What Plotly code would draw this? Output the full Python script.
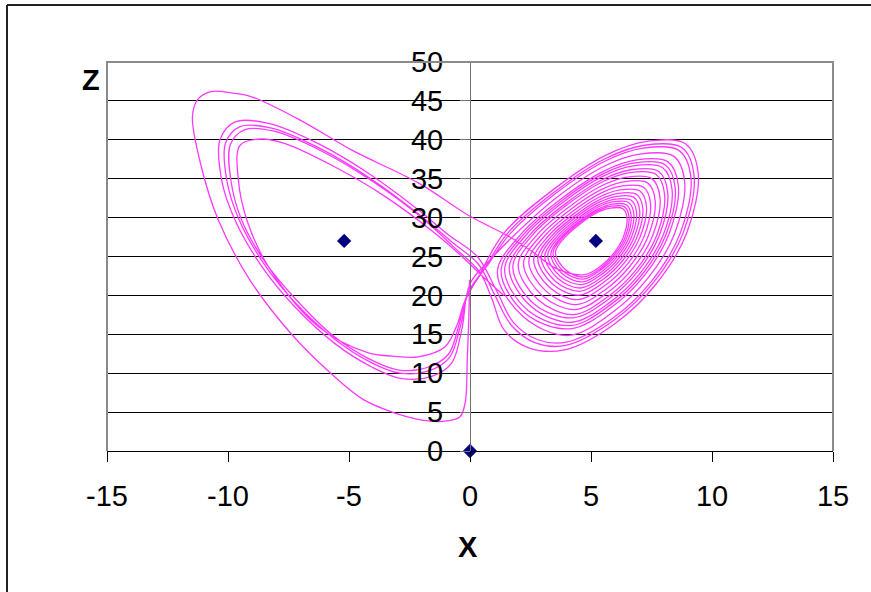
import plotly.graph_objects as go

# ---- data (x, z) ----
start_x = [-0.02, -0.05, -0.11, -0.2, -0.41, -0.9, -1.5, -2.2, -3.03, -4.4, -5.9, -7.4, -9.1, -10.4, -11.1, -11.47, -11.25, -10.7, -9.8, -9.0, -7.0, -4.9, -2.1, -0.07, 1.65, 2.5, 3.6]
start_z = [22.0, 17.0, 12.1, 6.2, 4.4, 3.9, 3.8, 4.1, 4.8, 6.6, 10.4, 15.1, 22.0, 29.7, 36.5, 43.0, 45.2, 46.2, 46.0, 45.5, 42.5, 38.7, 34.4, 30.3, 27.5, 25.8, 23.4]

r032_x = [4.72, 5.39, 5.93, 6.33, 6.49, 6.32, 5.80, 5.26, 4.56, 3.92, 3.53, 3.95]
r032_z = [22.66, 23.74, 25.38, 27.46, 29.92, 31.14, 31.23, 30.66, 29.22, 27.46, 25.54, 23.30]
r034_x = [4.69, 5.41, 5.98, 6.41, 6.57, 6.39, 5.85, 5.27, 4.52, 3.84, 3.43, 3.88]
r034_z = [22.37, 23.53, 25.26, 27.47, 30.09, 31.38, 31.48, 30.87, 29.34, 27.47, 25.43, 23.05]
r036_x = [4.67, 5.42, 6.04, 6.49, 6.66, 6.47, 5.89, 5.28, 4.49, 3.77, 3.34, 3.80]
r036_z = [22.09, 23.31, 25.15, 27.49, 30.26, 31.63, 31.74, 31.09, 29.47, 27.49, 25.33, 22.81]
r0385_x = [4.64, 5.45, 6.10, 6.58, 6.77, 6.56, 5.95, 5.29, 4.45, 3.68, 3.21, 3.71]
r0385_z = [21.73, 23.04, 25.01, 27.51, 30.47, 31.94, 32.05, 31.36, 29.63, 27.51, 25.20, 22.50]
r041_x = [4.61, 5.47, 6.17, 6.68, 6.88, 6.66, 6.00, 5.31, 4.40, 3.58, 3.09, 3.62]
r041_z = [21.38, 22.77, 24.86, 27.53, 30.69, 32.24, 32.37, 31.63, 29.78, 27.53, 25.07, 22.20]
r044_x = [4.57, 5.50, 6.24, 6.79, 7.01, 6.77, 6.07, 5.32, 4.35, 3.47, 2.94, 3.52]
r044_z = [20.95, 22.45, 24.69, 27.55, 30.94, 32.61, 32.74, 31.95, 29.97, 27.55, 24.91, 21.83]
r047_x = [4.54, 5.52, 6.32, 6.91, 7.14, 6.89, 6.13, 5.34, 4.30, 3.36, 2.80, 3.41]
r047_z = [20.53, 22.12, 24.52, 27.58, 31.20, 32.98, 33.12, 32.28, 30.16, 27.58, 24.76, 21.47]
r0505_x = [4.49, 5.55, 6.41, 7.04, 7.29, 7.02, 6.21, 5.35, 4.24, 3.23, 2.63, 3.28]
r0505_z = [20.03, 21.75, 24.32, 27.60, 31.49, 33.41, 33.56, 32.65, 30.38, 27.60, 24.57, 21.04]
r0545_x = [4.45, 5.59, 6.52, 7.20, 7.46, 7.17, 6.30, 5.37, 4.17, 3.08, 2.43, 3.14]
r0545_z = [19.46, 21.31, 24.09, 27.64, 31.83, 33.90, 34.07, 33.09, 30.63, 27.64, 24.37, 20.55]
r059_x = [4.39, 5.63, 6.63, 7.37, 7.65, 7.34, 6.40, 5.40, 4.10, 2.92, 2.21, 2.98]
r059_z = [18.82, 20.83, 23.84, 27.67, 32.22, 34.46, 34.63, 33.57, 30.92, 27.67, 24.13, 20.00]
r0635_x = [4.34, 5.67, 6.75, 7.55, 7.85, 7.51, 6.50, 5.42, 4.02, 2.75, 1.99, 2.81]
r0635_z = [18.18, 20.34, 23.58, 27.71, 32.60, 35.01, 35.20, 34.06, 31.20, 27.71, 23.90, 19.45]
r068_x = [4.28, 5.71, 6.87, 7.72, 8.04, 7.68, 6.60, 5.44, 3.94, 2.58, 1.77, 2.65]
r068_z = [17.54, 19.86, 23.32, 27.74, 32.98, 35.56, 35.77, 34.54, 31.48, 27.74, 23.66, 18.90]
r071_x = [4.25, 5.74, 6.95, 7.83, 8.17, 7.80, 6.66, 5.46, 3.89, 2.47, 1.62, 2.54]
r071_z = [17.12, 19.53, 23.15, 27.77, 33.24, 35.93, 36.15, 34.87, 31.67, 27.77, 23.51, 18.54]
r075_x = [4.20, 5.78, 7.05, 7.99, 8.35, 7.95, 6.75, 5.48, 3.83, 2.33, 1.43, 2.40]
r075_z = [16.55, 19.10, 22.93, 27.80, 33.58, 36.43, 36.65, 35.30, 31.93, 27.80, 23.30, 18.05]
r078_x = [4.16, 5.80, 7.13, 8.10, 8.48, 8.06, 6.82, 5.49, 3.77, 2.21, 1.28, 2.29]
r078_z = [16.12, 18.78, 22.75, 27.82, 33.83, 36.79, 37.03, 35.62, 32.11, 27.82, 23.14, 17.68]
r081_x = [4.13, 5.83, 7.21, 8.22, 8.61, 8.18, 6.88, 5.51, 3.72, 2.10, 1.13, 2.18]
r081_z = [15.70, 18.45, 22.58, 27.85, 34.09, 37.16, 37.41, 35.95, 32.30, 27.85, 22.99, 17.32]
r087_x = [4.06, 5.88, 7.36, 8.45, 8.87, 8.41, 7.01, 5.54, 3.62, 1.88, 0.9]
r087_z = [14.85, 17.80, 22.24, 27.90, 34.60, 37.90, 38.16, 36.60, 32.68, 27.90, 24.8]

left1_x = [0.0, -0.34, -0.76, -1.58, -2.82, -4.06, -5.58, -7.23, -8.6, -9.71, -10.26, -10.33, -9.71, -8.33, -6.27, -4.2, -2.14, -0.9, 0.3]
left1_z = [21.5, 15.6, 11.3, 9.6, 9.3, 10.8, 13.8, 18.5, 23.7, 29.7, 34.8, 40.0, 42.3, 42.1, 39.5, 35.7, 31.0, 27.8, 25.0]
ret093_x = [1.1, 1.8, 2.8, 3.98, 5.94, 7.52, 8.68, 9.13, 8.63, 7.15, 5.57, 3.52, 1.66, 0.75]
ret093_z = [20.6, 16.5, 14.3, 13.99, 17.16, 21.90, 27.94, 35.11, 38.64, 38.92, 37.24, 33.06, 27.94, 24.0]
left2_x = [-0.05, -0.4, -0.85, -1.7, -2.9, -4.1, -5.6, -7.2, -8.5, -9.55, -10.05, -10.1, -9.5, -8.2, -6.2, -4.1, -2.1, -0.8, 0.35]
left2_z = [20.5, 16.0, 12.0, 10.3, 10.0, 11.4, 14.4, 19.0, 24.0, 29.8, 34.8, 39.6, 41.7, 41.5, 38.9, 35.0, 30.4, 27.0, 24.0]
ret096_x = [1.0, 1.7, 2.7, 3.95, 5.96, 7.60, 8.80, 9.26, 8.75, 7.21, 5.58, 3.47, 1.55, 0.55]
ret096_z = [20.2, 16.2, 13.9, 13.57, 16.83, 21.73, 27.97, 35.36, 39.01, 39.30, 37.57, 33.25, 27.97, 23.2]
left3_x = [-0.15, -0.45, -0.9, -1.8, -2.95, -4.15, -5.65, -7.2, -8.45, -9.45, -9.88, -9.9, -9.3, -8.1, -6.1, -4.0, -2.0, -0.7, 0.4]
left3_z = [19.8, 16.3, 12.4, 10.7, 10.4, 11.8, 14.8, 19.5, 24.2, 29.8, 34.8, 39.4, 41.3, 41.1, 38.5, 34.6, 30.0, 26.3, 23.0]
ret100_x = [0.9, 1.4, 2.4, 3.9, 6.0, 7.7, 8.95, 9.43, 8.9, 7.3, 5.6, 3.4, 1.4, 0.35]
ret100_z = [19.6, 15.6, 13.3, 13.0, 16.4, 21.5, 28.0, 35.7, 39.5, 39.8, 38.0, 33.5, 28.0, 22.4]
left4_x = [-0.25, -0.5, -1.03, -2.14, -3.2, -4.2, -6.27, -8.33, -9.2, -9.57, -9.5, -8.6, -7.64, -5.58, -3.5, -1.45, -0.4, 0.5, 1.4]
left4_z = [19.0, 16.5, 13.4, 12.1, 12.2, 12.6, 16.0, 23.7, 29.5, 34.8, 39.3, 40.1, 39.5, 36.5, 32.7, 28.0, 25.2, 22.5, 20.0]

fixed_x = [0.0, -5.2, 5.2]
fixed_z = [0.0, 27.0, 27.0]

x_ticks = [-15, -10, -5, 0, 5, 10, 15]
z_ticks = [0, 5, 10, 15, 20, 25, 30, 35, 40, 45, 50]

segments = [
    (start_x, start_z),
    (r032_x, r032_z), (r034_x, r034_z), (r036_x, r036_z), (r0385_x, r0385_z),
    (r041_x, r041_z), (r044_x, r044_z), (r047_x, r047_z), (r0505_x, r0505_z),
    (r0545_x, r0545_z), (r059_x, r059_z), (r0635_x, r0635_z), (r068_x, r068_z),
    (r071_x, r071_z), (r075_x, r075_z), (r078_x, r078_z), (r081_x, r081_z),
    (r087_x, r087_z),
    (left1_x, left1_z), (ret093_x, ret093_z),
    (left2_x, left2_z), (ret096_x, ret096_z),
    (left3_x, left3_z), (ret100_x, ret100_z),
    (left4_x, left4_z),
]
traj_x, traj_z = [], []
for sx, sz in segments:
    traj_x += sx
    traj_z += sz

fig = go.Figure()
fig.add_trace(go.Scatter(
    x=traj_x, y=traj_z, mode="lines",
    line=dict(color="#FF38FF", width=1.3, shape="spline", smoothing=1.0),
    hoverinfo="skip", showlegend=False))
fig.add_trace(go.Scatter(
    x=fixed_x, y=fixed_z, mode="markers",
    marker=dict(symbol="diamond", size=11, color="#000080"),
    cliponaxis=False, showlegend=False))

L, R, T, B = 107, 833, 62, 451
W, H = 871, 592
pw, ph = R - L, B - T

def px(xp):
    return (xp - L) / pw

def py(yp):
    return (B - yp) / ph

fig.update_layout(
    width=W, height=H,
    margin=dict(l=L, r=W - R, t=T, b=H - B, pad=0),
    paper_bgcolor="white", plot_bgcolor="white",
    font=dict(family="Liberation Sans, Arial, sans-serif", size=29, color="black"),
    showlegend=False,
    shapes=[
        dict(type="path", xref="paper", yref="paper",
             path="M 0,0 L 0,1 L 1,1 L 1,0",
             line=dict(color="#8a8a8a", width=2), layer="above"),
        # chart-area border: left and top edges only (the rest lies outside the window)
        dict(type="line", xref="paper", yref="paper",
             x0=px(7), x1=px(7), y0=py(592), y1=py(5),
             line=dict(color="#222222", width=2), layer="above"),
        dict(type="line", xref="paper", yref="paper",
             x0=px(7), x1=px(871), y0=py(5), y1=py(5),
             line=dict(color="#222222", width=2), layer="above"),
    ],
    annotations=[
        dict(text="<b>Z</b>", xref="paper", yref="paper", x=px(91), y=py(80),
             showarrow=False, xanchor="center", yanchor="middle",
             font=dict(size=29, color="black")),
        dict(text="<b>X</b>", xref="paper", yref="paper", x=px(468), y=py(547),
             showarrow=False, xanchor="center", yanchor="middle",
             font=dict(size=29, color="black")),
    ],
)
fig.update_xaxes(
    range=[-15, 15], tickmode="array", tickvals=x_ticks,
    ticktext=[str(v) for v in x_ticks],
    showgrid=False, zeroline=False, showline=True, linecolor="black", linewidth=1,
    ticks="outside", ticklen=10, tickcolor="black", tickwidth=1,
    tickfont=dict(size=29), ticklabelstandoff=9,
)
fig.update_yaxes(
    range=[0, 50], tickmode="array", tickvals=z_ticks,
    ticktext=[str(v) for v in z_ticks],
    anchor="free", position=0.5,
    showgrid=True, gridcolor="black", gridwidth=1,
    zeroline=False, showline=True, linecolor="#707070", linewidth=1,
    ticks="outside", ticklen=10, tickcolor="#707070", tickwidth=1,
    tickfont=dict(size=29), ticklabelstandoff=11,
)

# remove the page's default 8px body margin so the chart fills the window exactly
fig.write_html("out.html", config={"displayModeBar": False},
               post_script="document.body.style.margin='0px';document.body.style.overflow='hidden';")
